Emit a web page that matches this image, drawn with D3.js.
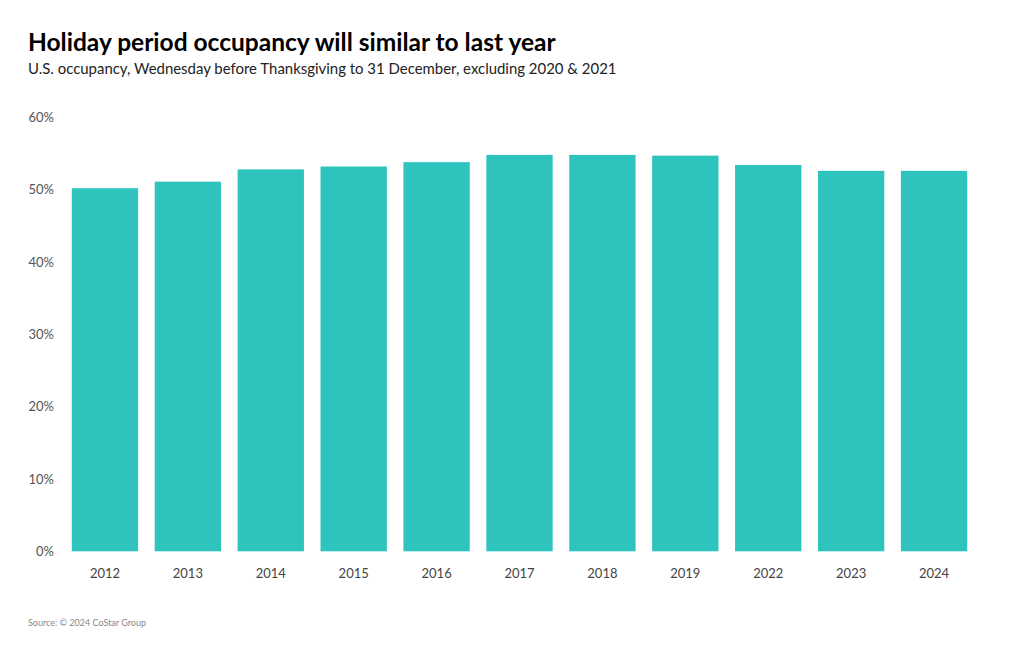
<!DOCTYPE html>
<html>
<head>
<meta charset="utf-8">
<script src="https://cdn.jsdelivr.net/npm/d3@7"></script>
<style>
  html, body { margin: 0; padding: 0; background: #fff; }
  svg { display: block; font-family: "Source Sans Pro", Lato, "Noto Sans", sans-serif; }
</style>
</head>
<body>
<svg id="chart" width="1020" height="650"></svg>
<script>
const years = ["2012","2013","2014","2015","2016","2017","2018","2019","2022","2023","2024"];
const occupancy = [50.2, 51.1, 52.8, 53.2, 53.8, 54.8, 54.8, 54.7, 53.4, 52.6, 52.6];
const yTicks = [0, 10, 20, 30, 40, 50, 60];
const titleText = "Holiday period occupancy will similar to last year";
const subtitleText = "U.S. occupancy, Wednesday before Thanksgiving to 31 December, excluding 2020 & 2021";
const sourceText = "Source: © 2024 CoStar Group";

const svg = d3.select("#chart");

const x = d3.scaleBand().domain(years).range([63.5, 975.5]).paddingInner(0.2).paddingOuter(0.1);
const y = d3.scaleLinear().domain([0, 60]).range([551.3, 117.3]);

function fitText(sel, target) {
  const w = sel.node().getComputedTextLength();
  const fs = parseFloat(sel.attr("font-size"));
  sel.attr("font-size", fs * target / w);
}

const t = svg.append("text").attr("x", 28).attr("y", 51).attr("font-size", 24)
  .attr("font-weight", 700).attr("fill", "#000").text(titleText);
fitText(t, 528);
const st = svg.append("text").attr("x", 28).attr("y", 74).attr("font-size", 16)
  .attr("fill", "#222").text(subtitleText);
fitText(st, 589);

// y axis labels
const yAxis = d3.axisLeft(y).tickValues(yTicks).tickFormat(d => d + "%").tickSize(0).tickPadding(0);
const ya = svg.append("g").attr("transform", "translate(54,0)").call(yAxis)
  .attr("font-family", null).attr("font-size", null);
ya.select(".domain").remove();
ya.selectAll("text").attr("font-size", 13).attr("fill", "#555");

// bars
svg.append("g").selectAll("rect").data(years).join("rect")
  .attr("x", d => x(d))
  .attr("width", x.bandwidth())
  .attr("y", (d, i) => y(occupancy[i]))
  .attr("height", (d, i) => y(0) - y(occupancy[i]))
  .attr("fill", "#2ec4bd");

// x axis
const xAxis = d3.axisBottom(x).tickSize(0).tickPadding(0);
const xa = svg.append("g").attr("transform", "translate(0,569)").call(xAxis)
  .attr("font-family", null).attr("font-size", null);
xa.select(".domain").remove();
xa.selectAll("text").attr("font-size", 13).attr("fill", "#444");

const src = svg.append("text").attr("x", 28).attr("y", 626).attr("font-size", 10)
  .attr("fill", "#888").text(sourceText);
fitText(src, 118);
</script>
</body>
</html>
